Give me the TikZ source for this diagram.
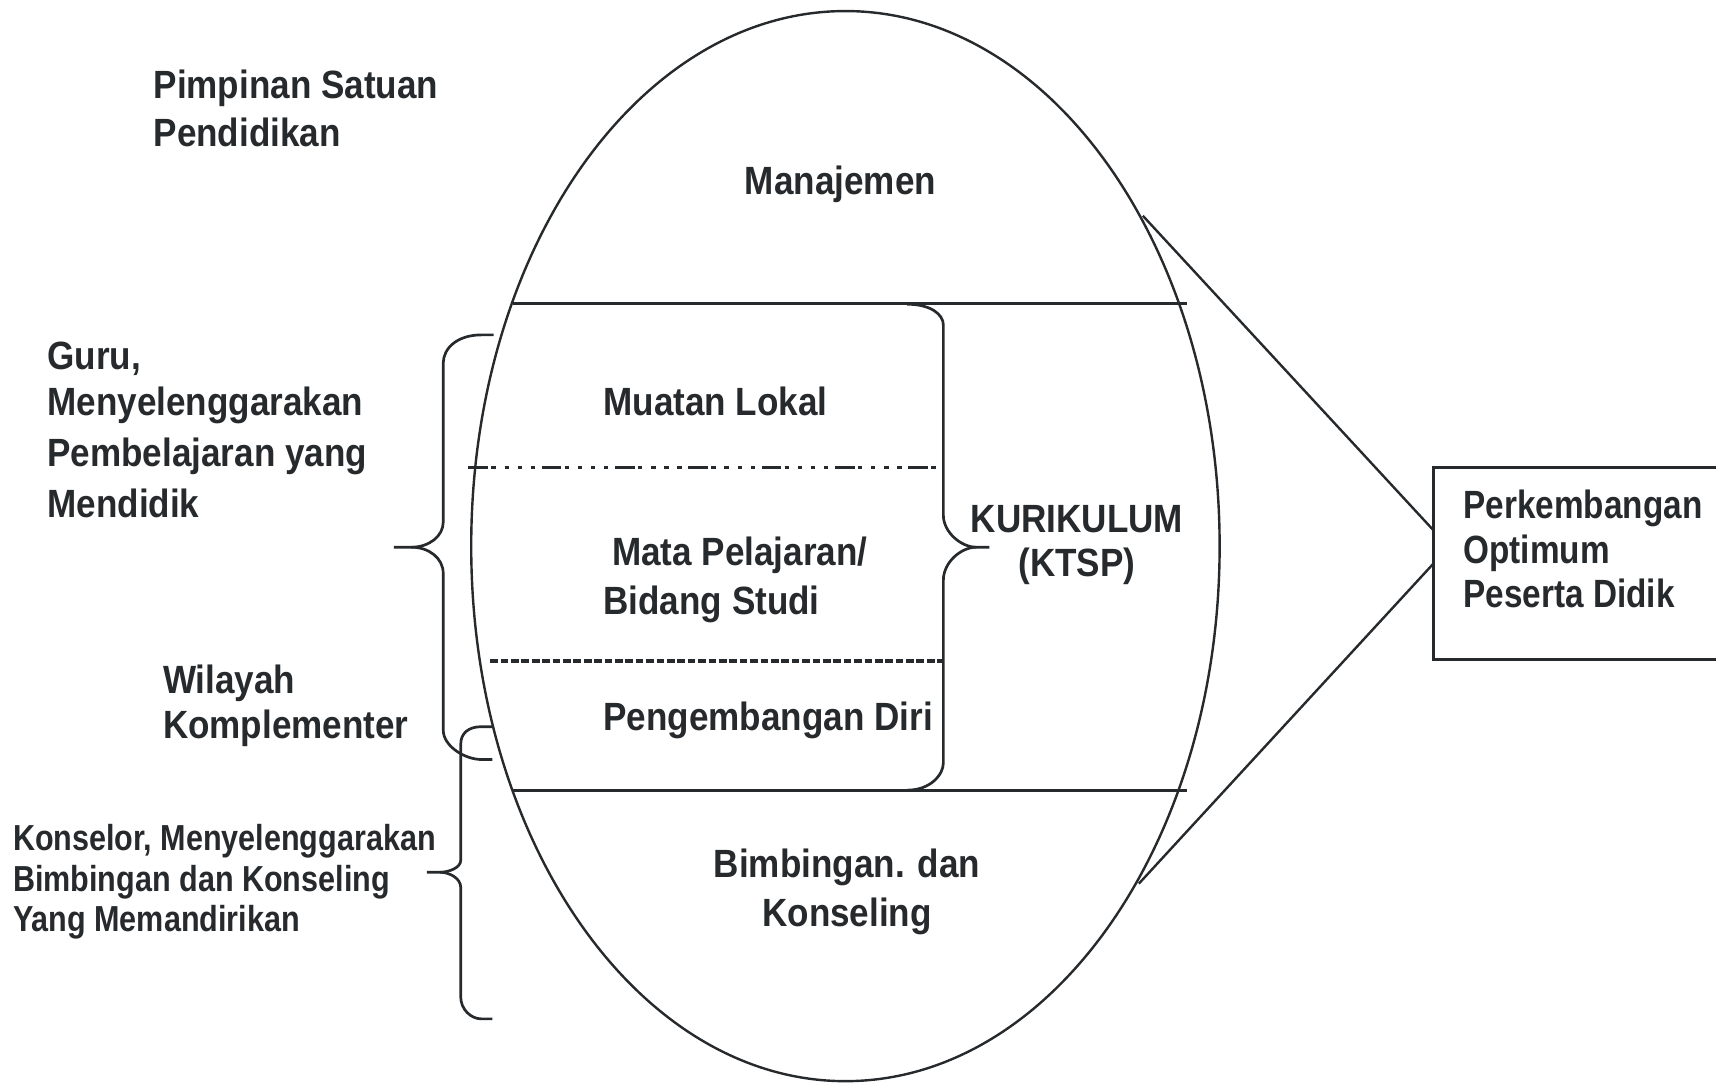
\documentclass[tikz,border=0pt]{standalone}
\usepackage{fontspec}
\setmainfont{Liberation Sans}[FakeStretch=0.89]
\newfontfamily\narrowsans{Liberation Sans}[FakeStretch=0.845]
\usepackage{tikz}
\usetikzlibrary{calc,shapes.geometric,positioning}
\definecolor{inkgray}{RGB}{38,42,44}
\newcommand{\sizeskip}[2]{\fontsize{#1}{#2}\selectfont}
\tikzset{
  txt/.style={inner sep=0pt, text=inkgray, align=left, font=\bfseries\sizeskip{20.5}{#1}},
  txt/.default=24.5,
  ntxt/.style 2 args={inner sep=0pt, text=inkgray, align=left, font=\narrowsans\bfseries\sizeskip{#1}{#2}},
  egg/.style={draw=inkgray, ellipse, line width=1.25pt, minimum width=13.68cm, minimum height=19.56cm, inner sep=0pt, outer sep=0.05cm},
  divider/.style={draw=inkgray, line width=1.5pt},
  bracepath/.style={draw=inkgray, line width=1.4pt, line join=round},
  goalbox/.style={draw=inkgray, line width=1.4pt, minimum width=6cm, minimum height=3.51cm, inner sep=0pt, outer sep=0pt},
  link/.style={draw=inkgray, line width=1.25pt}
}

\begin{document}
\begin{tikzpicture}[x=0.02cm, y=-0.02cm]
\path[use as bounding box] (0,0) rectangle (1568,991);
\clip (0,0) rectangle (1568,991);

\node[egg] (egg) at (772.5,499) {};

\draw[divider] (469,277) -- (1085,277);
\draw[divider] (469,722) -- (1085,722);
\draw[inkgray, line width=1.45pt, dash pattern=on 0.36cm off 0.06cm on 0.08cm off 0.16cm on 0.08cm off 0.16cm on 0.08cm off 0.16cm on 0.08cm off 0.12cm]
  (428,427) -- (862,427);
\draw[inkgray, line width=1.8pt, dash pattern=on 0.14cm off 0.05cm] (448,604) -- (862,604);

\draw[bracepath] (829,278) .. controls (850,278) and (862,287) .. (862,297) -- (862,471)
  .. controls (862,486) and (878,500) .. (892,500) -- (904,500);
\draw[bracepath] (892,500) .. controls (878,500) and (862,514) .. (862,530) -- (862,697)
  .. controls (862,708) and (850,722) .. (829,722);

\draw[bracepath] (451,306) -- (440,306) .. controls (418,306) and (405,318) .. (405,332) -- (405,477)
  .. controls (405,490) and (392,500) .. (376,500) -- (360,500);
\draw[bracepath] (376,500) .. controls (392,500) and (405,510) .. (405,524) -- (405,667)
  .. controls (405,682) and (425,694) .. (440,694) -- (450,694);

\draw[bracepath] (450,664) -- (440,664) .. controls (428,664) and (421,670) .. (421,680) -- (421,786)
  .. controls (421,793) and (410,797) .. (402,797) -- (390,797);
\draw[bracepath] (402,797) .. controls (410,797) and (421,802) .. (421,811) -- (421,911)
  .. controls (421,922) and (430,931) .. (440,931) -- (450,931);

\node[goalbox, anchor=north west] (goal) at (1310,427) {};
\draw[link] (egg.48.7) -- ($(goal.west)+(0,-30)$);
\draw[link] (egg.-49.3) -- (goal.west);

\node[txt, anchor=north west] (pimpinan) at (140,64) {Pimpinan Satuan\\Pendidikan};
\node[txt, anchor=north] (manajemen) at (768,151) {Manajemen};
\node[txt=26.7, anchor=north west] (guru) at (43,312) {Guru,\\[-2.8pt]Menyelenggarakan\\Pembelajaran yang\\Mendidik};
\node[txt, anchor=north west] (muatan) at (551,353) {Muatan Lokal};
\node[txt=25.6, anchor=north west] (matapel) at (551,490.5) {\hspace*{0.16cm}Mata Pelajaran/\\Bidang Studi};
\node[txt, anchor=north west] (pengdiri) at (551,641) {Pengembangan Diri};
\node[txt=22.8, align=center, anchor=north] (kurikulum) at (984,461.4) {KURIKULUM\\(KTSP)};
\node[txt=23.3, anchor=north west] (wilayah) at (148.6,607.6) {Wilayah\\Komplementer};
\node[txt=25.4, align=center, anchor=north] (bimbingan) at (774,775.5) {Bimbingan. dan\\Konseling};
\node[ntxt={18.8}{21}, anchor=north west] (konselor) at (11.6,753) {Konselor, Menyelenggarakan\\Bimbingan dan Konseling\\Yang Memandirikan};
\node[ntxt={20.5}{23}, anchor=north west] (goaltxt) at (1337,447.7) {Perkembangan\\Optimum\\Peserta Didik};
\end{tikzpicture}
\end{document}
